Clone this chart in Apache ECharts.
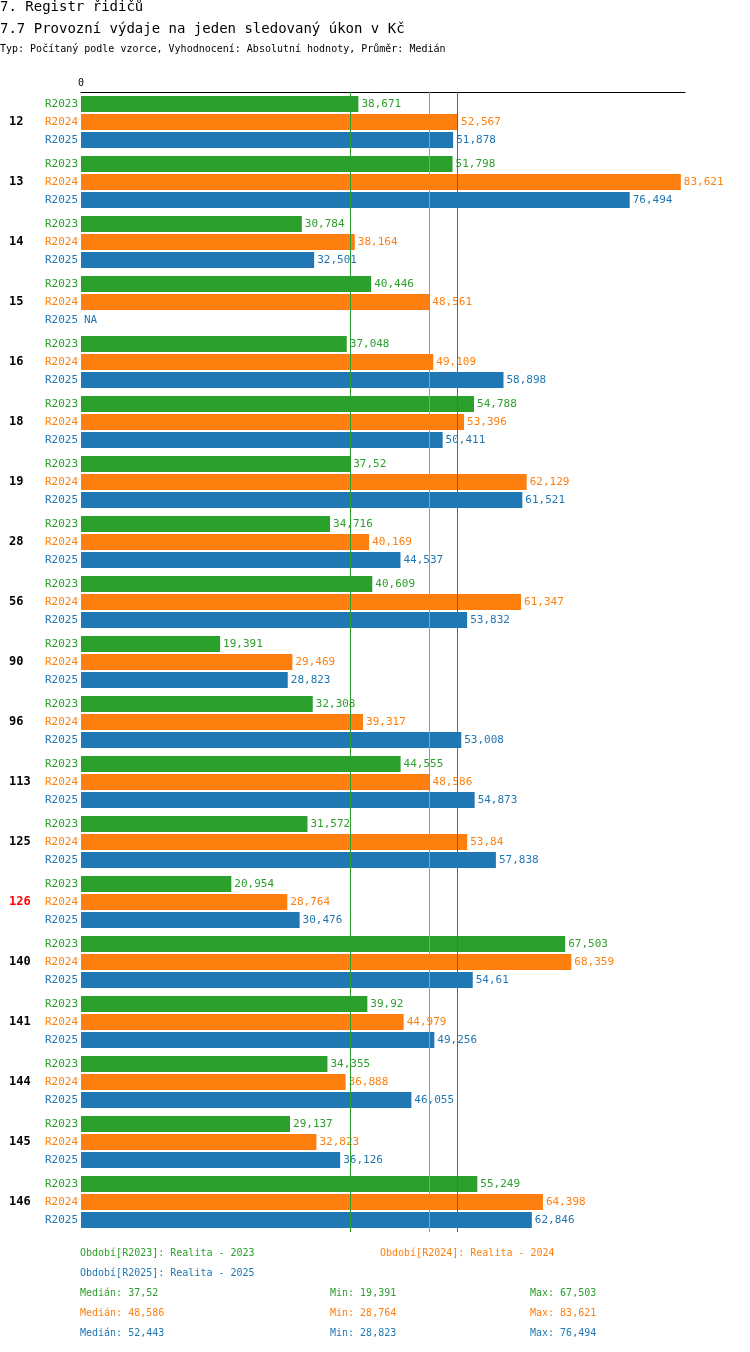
<!DOCTYPE html>
<html>
<head>
<meta charset="utf-8">
<script src="https://cdn.jsdelivr.net/npm/echarts@6/dist/echarts.min.js"></script>
<style>html,body{margin:0;padding:0;background:#fff}#main{width:750px;height:1352px}</style>
</head>
<body>
<div id="main"></div>
<script>
// kategorie a hodnoty (tis. Kč)
var categories = ['12','13','14','15','16','18','19','28','56','90','96','113','125','126','140','141','144','145','146'];
var r2023 = [38.671,51.798,30.784,40.446,37.048,54.788,37.52,34.716,40.609,19.391,32.308,44.555,31.572,20.954,67.503,39.92,34.355,29.137,55.249];
var r2024 = [52.567,83.621,38.164,48.561,49.109,53.396,62.129,40.169,61.347,29.469,39.317,48.586,53.84,28.764,68.359,44.979,36.888,32.823,64.398];
var r2025 = [51.878,76.494,32.501,null,58.898,50.411,61.521,44.537,53.832,28.823,53.008,54.873,57.838,30.476,54.61,49.256,46.055,36.126,62.846];
var medians = [37.52, 48.586, 52.443];
var mins = [19.391, 28.764, 28.823];
var maxs = [67.503, 83.621, 76.494];
var periods = ['R2023', 'R2024', 'R2025'];
var colors = ['#2ca02c', '#ff7f0e', '#1f77b4'];
var highlighted = '126';

var FONT = 'DejaVu Sans Mono';
function fmt(v) { return String(v).replace('.', ','); }

var series = [];
[r2023, r2024, r2025].forEach(function (arr, i) {
    // nulova rada jen kvuli popisku R20xx vlevo
    series.push({
        type: 'bar', stack: 's' + i, barWidth: 16, barGap: '12.5%',
        data: arr.map(function () { return 0; }),
        itemStyle: { color: colors[i] },
        label: { show: true, position: 'left', distance: 3, color: colors[i], fontFamily: FONT, fontSize: 11,
            formatter: function () { return periods[i]; } },
        silent: true
    });
    series.push({
        type: 'bar', stack: 's' + i, barWidth: 16, barGap: '12.5%',
        data: arr.map(function (v) { return v == null ? 0 : v; }),
        itemStyle: { color: colors[i] },
        label: { show: true, position: 'right', distance: 3, color: colors[i], fontFamily: FONT, fontSize: 11,
            formatter: function (p) { return arr[p.dataIndex] == null ? 'NA' : fmt(arr[p.dataIndex]); } },
        markLine: { symbol: 'none', silent: true, label: { show: false },
            lineStyle: { color: colors[i], type: 'solid', width: 1 },
            data: [{ xAxis: medians[i] }] }
    });
});

var graphics = [
    { type: 'text', left: 0, top: 0, style: { text: '7. Registr řidičů', font: '14px ' + FONT, fill: '#000' } },
    { type: 'text', left: 0, top: 22, style: { text: '7.7 Provozní výdaje na jeden sledovaný úkon v Kč', font: '14px ' + FONT, fill: '#000' } },
    { type: 'text', left: 0, top: 44, style: { text: 'Typ: Počítaný podle vzorce, Vyhodnocení: Absolutní hodnoty, Průměr: Medián', font: '10px ' + FONT, fill: '#000' } },
    { type: 'text', left: 80, top: 1248, style: { text: 'Období[R2023]: Realita - 2023', font: '10px ' + FONT, fill: colors[0] } },
    { type: 'text', left: 380, top: 1248, style: { text: 'Období[R2024]: Realita - 2024', font: '10px ' + FONT, fill: colors[1] } },
    { type: 'text', left: 80, top: 1268, style: { text: 'Období[R2025]: Realita - 2025', font: '10px ' + FONT, fill: colors[2] } }
];
for (var i = 0; i < 3; i++) {
    var y = 1288 + i * 20;
    graphics.push({ type: 'text', left: 80, top: y, style: { text: 'Medián: ' + fmt(medians[i]), font: '10px ' + FONT, fill: colors[i] } });
    graphics.push({ type: 'text', left: 330, top: y, style: { text: 'Min: ' + fmt(mins[i]), font: '10px ' + FONT, fill: colors[i] } });
    graphics.push({ type: 'text', left: 530, top: y, style: { text: 'Max: ' + fmt(maxs[i]), font: '10px ' + FONT, fill: colors[i] } });
}

var chart = echarts.init(document.getElementById('main'));
chart.setOption({
    animation: false,
    grid: { left: 81, right: 65, top: 92, bottom: 120 },
    xAxis: {
        type: 'value', position: 'top', min: 0, max: 84.2,
        splitLine: { show: false },
        axisLine: { show: true, lineStyle: { color: '#000' } },
        axisTick: { show: false },
        axisLabel: { fontFamily: FONT, fontSize: 10, color: '#000', margin: 4,
            formatter: function (v) { return v === 0 ? '0' : ''; } }
    },
    yAxis: {
        type: 'category', inverse: true, data: categories,
        axisLine: { show: false }, axisTick: { show: false },
        axisLabel: { margin: 72, align: 'left', fontFamily: FONT, fontSize: 12, fontWeight: 'bold',
            padding: [0, 0, 36, 0],
            color: function (v) { return v === highlighted ? '#ff0000' : '#000'; } }
    },
    series: series,
    graphic: graphics
});
</script>
</body>
</html>
